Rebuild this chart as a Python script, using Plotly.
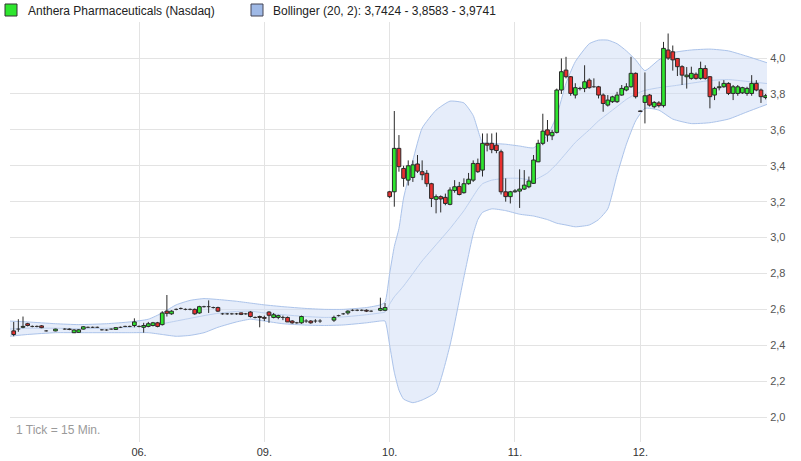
import plotly.graph_objects as go

# ---------------- data ----------------
bars_per_day = [27, 27, 27, 27, 27, 28]
day_labels = ["05.", "06.", "09.", "10.", "11.", "12."]
y_ticks = [2.0, 2.2, 2.4, 2.6, 2.8, 3.0, 3.2, 3.4, 3.6, 3.8, 4.0]

open_ = [
    # 05.
    2.48, 2.49, 2.50, 2.52, 2.505, 2.505, 2.508, 2.48, None, 2.48, None, 2.49, 2.49, 2.47,
    2.472, 2.49, 2.50, 2.50, 2.50, 2.486, 2.485, 2.49, 2.488, 2.50, 2.505, 2.505, 2.51,
    # 06.
    2.505, 2.50, 2.505, 2.51, 2.525, 2.515, 2.59, 2.575, 2.60, 2.605, 2.60, 2.60, 2.60, 2.58,
    2.615, 2.615, 2.61, 2.61, 2.575, 2.575, 2.575, 2.575, 2.58, 2.575, 2.585, 2.555, 2.56,
    # 09.
    2.555, 2.585, 2.555, 2.555, 2.555, 2.555, 2.535, 2.525, 2.525, 2.535, 2.535, 2.535, 2.535, None,
    None, 2.54, 2.565, 2.575, 2.58, 2.595, 2.595, 2.595, 2.595, 2.59, None, 2.595, 2.595,
    # 10.
    3.255, 3.255, 3.497, 3.385, 3.32, 3.335, 3.41, 3.367, 3.358, 3.30, 3.213, 3.228, 3.224, 3.185,
    3.262, 3.285, 3.25, 3.30, 3.32, 3.413, 3.376, 3.525, 3.525, 3.515, 3.478, 3.255, 3.228,
    # 11.
    3.255, 3.259, 3.27, 3.283, 3.302, 3.422, 3.525, 3.60, 3.567, 3.586, 3.822, 3.933, 3.896, 3.794,
    3.83, 3.831, 3.877, 3.84, 3.84, 3.794, 3.738, 3.757, 3.757, 3.794, 3.822, 3.84, 3.915,
    # 12.
    3.705, 3.753, 3.794, 3.729, 3.75, 3.735, 4.045, 4.035, 3.998, 3.952, 3.896, 3.887, 3.91, 3.887,
    3.942, 3.896, 3.794, 3.835, 3.84, 3.859, 3.803, 3.803, 3.806, 3.803, 3.803, 3.859, 3.822, 3.78,
]
high = [
    # 05.
    2.53, 2.545, 2.56, 2.525, 2.51, 2.51, 2.512, 2.485, None, 2.492, None, 2.495, 2.494, 2.49,
    2.49, 2.506, 2.504, 2.504, 2.504, 2.49, 2.489, 2.494, 2.50, 2.504, 2.509, 2.509, 2.55,
    # 06.
    2.51, 2.525, 2.53, 2.53, 2.53, 2.59, 2.68, 2.595, 2.605, 2.61, 2.605, 2.605, 2.605, 2.62,
    2.62, 2.65, 2.615, 2.615, 2.58, 2.58, 2.58, 2.58, 2.582, 2.58, 2.59, 2.56, 2.565,
    # 09.
    2.565, 2.59, 2.58, 2.57, 2.565, 2.56, 2.54, 2.53, 2.565, 2.545, 2.54, 2.545, 2.545, None,
    None, 2.565, 2.57, 2.58, 2.595, 2.60, 2.60, 2.60, 2.60, 2.595, None, 2.665, 2.635,
    # 10.
    3.26, 3.705, 3.571, 3.40, 3.43, 3.43, 3.46, 3.43, 3.376, 3.305, 3.24, 3.235, 3.245, 3.28,
    3.32, 3.31, 3.33, 3.36, 3.43, 3.44, 3.58, 3.58, 3.58, 3.585, 3.49, 3.33, 3.26,
    # 11.
    3.27, 3.38, 3.376, 3.34, 3.46, 3.545, 3.69, 3.655, 3.60, 3.83, 3.998, 4.007, 3.90, 3.86,
    3.84, 3.96, 3.887, 3.887, 3.845, 3.803, 3.794, 3.79, 3.812, 3.85, 3.86, 4.007, 3.92,
    # 12.
    3.708, 3.92, 3.80, 3.76, 3.76, 4.09, 4.137, 4.07, 4.0, 3.96, 3.95, 3.952, 3.92, 3.98,
    3.96, 3.90, 3.84, 3.87, 3.877, 3.865, 3.85, 3.85, 3.84, 3.84, 3.905, 3.877, 3.83, 3.80,
]
low = [
    # 05.
    2.45, 2.475, 2.495, 2.505, 2.50, 2.50, 2.495, 2.476, None, 2.478, None, 2.486, 2.484, 2.468,
    2.47, 2.488, 2.496, 2.496, 2.496, 2.482, 2.481, 2.486, 2.485, 2.496, 2.501, 2.501, 2.50,
    # 06.
    2.50, 2.47, 2.50, 2.505, 2.50, 2.51, 2.56, 2.57, 2.595, 2.60, 2.595, 2.595, 2.57, 2.575,
    2.61, 2.58, 2.605, 2.585, 2.57, 2.57, 2.57, 2.57, 2.568, 2.57, 2.555, 2.55, 2.50,
    # 09.
    2.535, 2.525, 2.55, 2.545, 2.54, 2.53, 2.52, 2.52, 2.52, 2.525, 2.52, 2.525, 2.525, None,
    None, 2.53, 2.56, 2.57, 2.57, 2.59, 2.59, 2.59, 2.585, 2.585, None, 2.59, 2.59,
    # 10.
    3.22, 3.172, 3.367, 3.283, 3.29, 3.31, 3.36, 3.32, 3.283, 3.17, 3.135, 3.14, 3.18, 3.18,
    3.25, 3.235, 3.245, 3.295, 3.31, 3.36, 3.34, 3.48, 3.47, 3.47, 3.24, 3.20, 3.19,
    # 11.
    3.25, 3.165, 3.265, 3.275, 3.30, 3.42, 3.515, 3.534, 3.543, 3.58, 3.80, 3.887, 3.79, 3.775,
    3.82, 3.81, 3.83, 3.835, 3.775, 3.701, 3.73, 3.75, 3.75, 3.79, 3.815, 3.835, 3.775,
    # 12.
    3.70, 3.636, 3.73, 3.72, 3.725, 3.725, 3.99, 3.93, 3.90, 3.85, 3.83, 3.88, 3.88, 3.88,
    3.88, 3.72, 3.766, 3.82, 3.835, 3.794, 3.766, 3.79, 3.80, 3.79, 3.79, 3.815, 3.75, 3.77,
]
close = [
    # 05.
    2.46, 2.49, 2.505, 2.51, 2.505, 2.505, 2.498, 2.48, None, 2.49, None, 2.49, 2.488, 2.485,
    2.486, 2.503, 2.50, 2.50, 2.50, 2.486, 2.485, 2.49, 2.498, 2.50, 2.505, 2.505, 2.53,
    # 06.
    2.505, 2.51, 2.52, 2.525, 2.505, 2.58, 2.578, 2.59, 2.60, 2.605, 2.60, 2.60, 2.575, 2.615,
    2.615, 2.615, 2.61, 2.59, 2.575, 2.575, 2.575, 2.575, 2.572, 2.575, 2.56, 2.555, 2.555,
    # 09.
    2.55, 2.567, 2.57, 2.565, 2.555, 2.53, 2.525, 2.525, 2.56, 2.535, 2.525, 2.535, 2.535, None,
    None, 2.555, 2.565, 2.575, 2.59, 2.595, 2.595, 2.595, 2.59, 2.59, None, 2.605, 2.61,
    # 10.
    3.228, 3.497, 3.395, 3.33, 3.40, 3.405, 3.37, 3.35, 3.30, 3.218, 3.228, 3.215, 3.19, 3.265,
    3.283, 3.24, 3.30, 3.325, 3.413, 3.367, 3.525, 3.515, 3.49, 3.485, 3.255, 3.228, 3.255,
    # 11.
    3.26, 3.27, 3.292, 3.315, 3.432, 3.525, 3.593, 3.571, 3.586, 3.822, 3.924, 3.896, 3.803, 3.835,
    3.831, 3.868, 3.835, 3.84, 3.794, 3.747, 3.766, 3.784, 3.794, 3.831, 3.84, 3.915, 3.785,
    # 12.
    3.703, 3.79, 3.738, 3.753, 3.735, 4.054, 4.0, 3.99, 3.952, 3.905, 3.905, 3.915, 3.887, 3.942,
    3.887, 3.785, 3.831, 3.84, 3.859, 3.803, 3.84, 3.84, 3.835, 3.831, 3.859, 3.822, 3.785, 3.79,
]

# Bollinger (20, 2) band (bar index -> value)
band_x = [-1, 3, 9, 14, 20, 25, 29, 32, 35, 38, 41, 44, 48, 51, 54, 58, 63, 67, 71, 76,
          79, 80, 81, 82, 83, 84, 86, 88, 91, 94, 97, 99, 100, 101, 103, 106, 109, 112, 115, 117,
          119, 121, 124, 126, 128, 130, 132, 134, 136, 139, 142, 146, 150, 154, 158, 162.3]
band_upper = [2.535, 2.53, 2.52, 2.515, 2.52, 2.53, 2.545, 2.58, 2.625, 2.65,
              2.66, 2.655, 2.645, 2.635, 2.625, 2.615, 2.605, 2.60, 2.60, 2.61,
              2.625, 2.64, 2.80, 2.95, 3.05, 3.22, 3.43, 3.61, 3.71, 3.76,
              3.75, 3.68, 3.60, 3.53, 3.525, 3.52, 3.51, 3.50, 3.57, 3.68,
              3.86, 3.98, 4.08, 4.10, 4.10, 4.08, 4.04, 3.99, 3.93, 3.99,
              4.03, 4.045, 4.05, 4.04, 4.01, 3.974]
band_mid = [2.49, 2.495, 2.495, 2.492, 2.495, 2.50, 2.51, 2.52, 2.535, 2.55,
            2.565, 2.578, 2.588, 2.59, 2.58, 2.57, 2.56, 2.555, 2.558, 2.57,
            2.58, 2.585, 2.63, 2.67, 2.70, 2.73, 2.80, 2.87, 2.96, 3.05,
            3.15, 3.23, 3.27, 3.30, 3.32, 3.33, 3.33, 3.32, 3.36, 3.41,
            3.47, 3.53, 3.60, 3.65, 3.69, 3.73, 3.77, 3.80, 3.82, 3.835,
            3.845, 3.86, 3.875, 3.88, 3.87, 3.858]
band_lower = [2.45, 2.46, 2.47, 2.47, 2.47, 2.47, 2.47, 2.46, 2.45, 2.455,
              2.47, 2.50, 2.53, 2.545, 2.535, 2.52, 2.512, 2.51, 2.513, 2.525,
              2.535, 2.535, 2.40, 2.25, 2.15, 2.10, 2.08, 2.095, 2.14, 2.40,
              2.78, 3.02, 3.10, 3.14, 3.16, 3.15, 3.13, 3.12, 3.10, 3.08,
              3.07, 3.06, 3.07, 3.10, 3.16, 3.35, 3.52, 3.65, 3.72, 3.71,
              3.66, 3.635, 3.64, 3.66, 3.70, 3.742]

legend_stock = "Anthera Pharmaceuticals (Nasdaq)"
legend_band = "Bollinger (20, 2): 3,7424 - 3,8583 - 3,9741"
note_text = "1 Tick = 15 Min."

# ---------------- derived positions ----------------
day_start = []
acc = 0
for n in bars_per_day:
    day_start.append(acc)
    acc += n

UP, DOWN, OUTLINE = "#2ee62e", "#e8302f", "#2a2a2a"
BODY_W = 0.8

body_x, body_base, body_len, body_col = [], [], [], []
wick_x, wick_y = [], []
doji_x, doji_y = [], []
for i, (oo, hh, ll, cc) in enumerate(zip(open_, high, low, close)):
    if oo is None:
        continue
    wick_x += [i, i, None]
    wick_y += [ll, hh, None]
    if abs(cc - oo) < 1e-9:
        doji_x += [i - BODY_W / 2, i + BODY_W / 2, None]
        doji_y += [oo, oo, None]
    else:
        body_x.append(i)
        body_base.append(oo)
        body_len.append(cc - oo)
        body_col.append(UP if cc > oo else DOWN)

# ---------------- figure ----------------
W, H = 801, 461
PL, PR, PT, PB = 10, 767, 22, 442


def px(xp):
    return (xp - PL) / (PR - PL)


def py(yp):
    return (PB - yp) / (PB - PT)


band_line = "#abc3ea"
fig = go.Figure()
fig.add_trace(go.Scatter(x=band_x, y=band_lower, mode="lines", zorder=0,
                         line=dict(color=band_line, width=1, shape="spline", smoothing=0.5),
                         hoverinfo="skip", showlegend=False))
fig.add_trace(go.Scatter(x=band_x, y=band_upper, mode="lines", fill="tonexty", zorder=0,
                         fillcolor="rgba(205,220,245,0.5)",
                         line=dict(color=band_line, width=1, shape="spline", smoothing=0.5),
                         hoverinfo="skip", showlegend=False))
fig.add_trace(go.Scatter(x=band_x, y=band_mid, mode="lines", zorder=0,
                         line=dict(color="#bccfee", width=1, shape="spline", smoothing=0.5),
                         hoverinfo="skip", showlegend=False))
# wicks
fig.add_trace(go.Scatter(x=wick_x, y=wick_y, mode="lines", zorder=1,
                         line=dict(color=OUTLINE, width=1), hoverinfo="skip", showlegend=False))
# doji (open == close)
fig.add_trace(go.Scatter(x=doji_x, y=doji_y, mode="lines", zorder=1,
                         line=dict(color=OUTLINE, width=1), hoverinfo="skip", showlegend=False))
# bodies
fig.add_trace(go.Bar(x=body_x, y=body_len, base=body_base, width=BODY_W, zorder=2,
                     marker=dict(color=body_col, line=dict(color=OUTLINE, width=1)),
                     hoverinfo="skip", showlegend=False))

fig.update_layout(
    width=W, height=H,
    margin=dict(l=PL, r=W - PR, t=PT, b=H - PB, pad=0, autoexpand=False),
    paper_bgcolor="white", plot_bgcolor="white",
    showlegend=False,
    separators=",.",
    font=dict(family="Liberation Sans, Arial, sans-serif", size=11, color="#333"),
    xaxis=dict(range=[-0.8, 162.3], tickmode="array",
               tickvals=day_start[1:], ticktext=day_labels[1:],
               showgrid=True, gridcolor="#e3e3e3", gridwidth=1, zeroline=False,
               showline=True, linecolor="#d0d0d0", linewidth=1, mirror=True, ticks="",
               automargin=False,
               tickfont=dict(family="Liberation Sans Narrow, Liberation Sans, Arial", size=11, color="#333")),
    yaxis=dict(side="right", range=[1.861, 4.201], tickmode="array", tickvals=y_ticks,
               tickformat=".1f", showgrid=True, gridcolor="#e3e3e3", gridwidth=1, zeroline=False,
               showline=True, linecolor="#d0d0d0", linewidth=1, mirror=True, ticks="",
               automargin=False,
               tickfont=dict(family="Liberation Sans, Arial", size=11, color="#555")),
)

# legend row (drawn manually)
fig.add_shape(type="rect", xref="paper", yref="paper",
              x0=px(5), x1=px(17), y0=py(16), y1=py(4),
              fillcolor=UP, line=dict(color="#333", width=1))
fig.add_annotation(xref="paper", yref="paper", x=px(26), y=py(10.5), text=legend_stock,
                   showarrow=False, xanchor="left", yanchor="middle",
                   font=dict(family="Liberation Sans, Arial", size=12, color="#222"))
fig.add_shape(type="rect", xref="paper", yref="paper",
              x0=px(251), x1=px(263), y0=py(16), y1=py(4),
              fillcolor="#9fb9e6", line=dict(color="#445", width=1))
fig.add_annotation(xref="paper", yref="paper", x=px(271), y=py(10.5), text=legend_band,
                   showarrow=False, xanchor="left", yanchor="middle",
                   font=dict(family="Liberation Sans, Arial", size=12, color="#222"))
fig.add_annotation(xref="paper", yref="paper", x=px(14), y=py(430), text=note_text,
                   showarrow=False, xanchor="left", yanchor="middle",
                   font=dict(family="Liberation Sans, Arial", size=12, color="#9a9a9a"))

fig.write_html("out.html", config={"displayModeBar": False},
               post_script="document.body.style.margin='0';document.body.style.overflow='hidden';")
